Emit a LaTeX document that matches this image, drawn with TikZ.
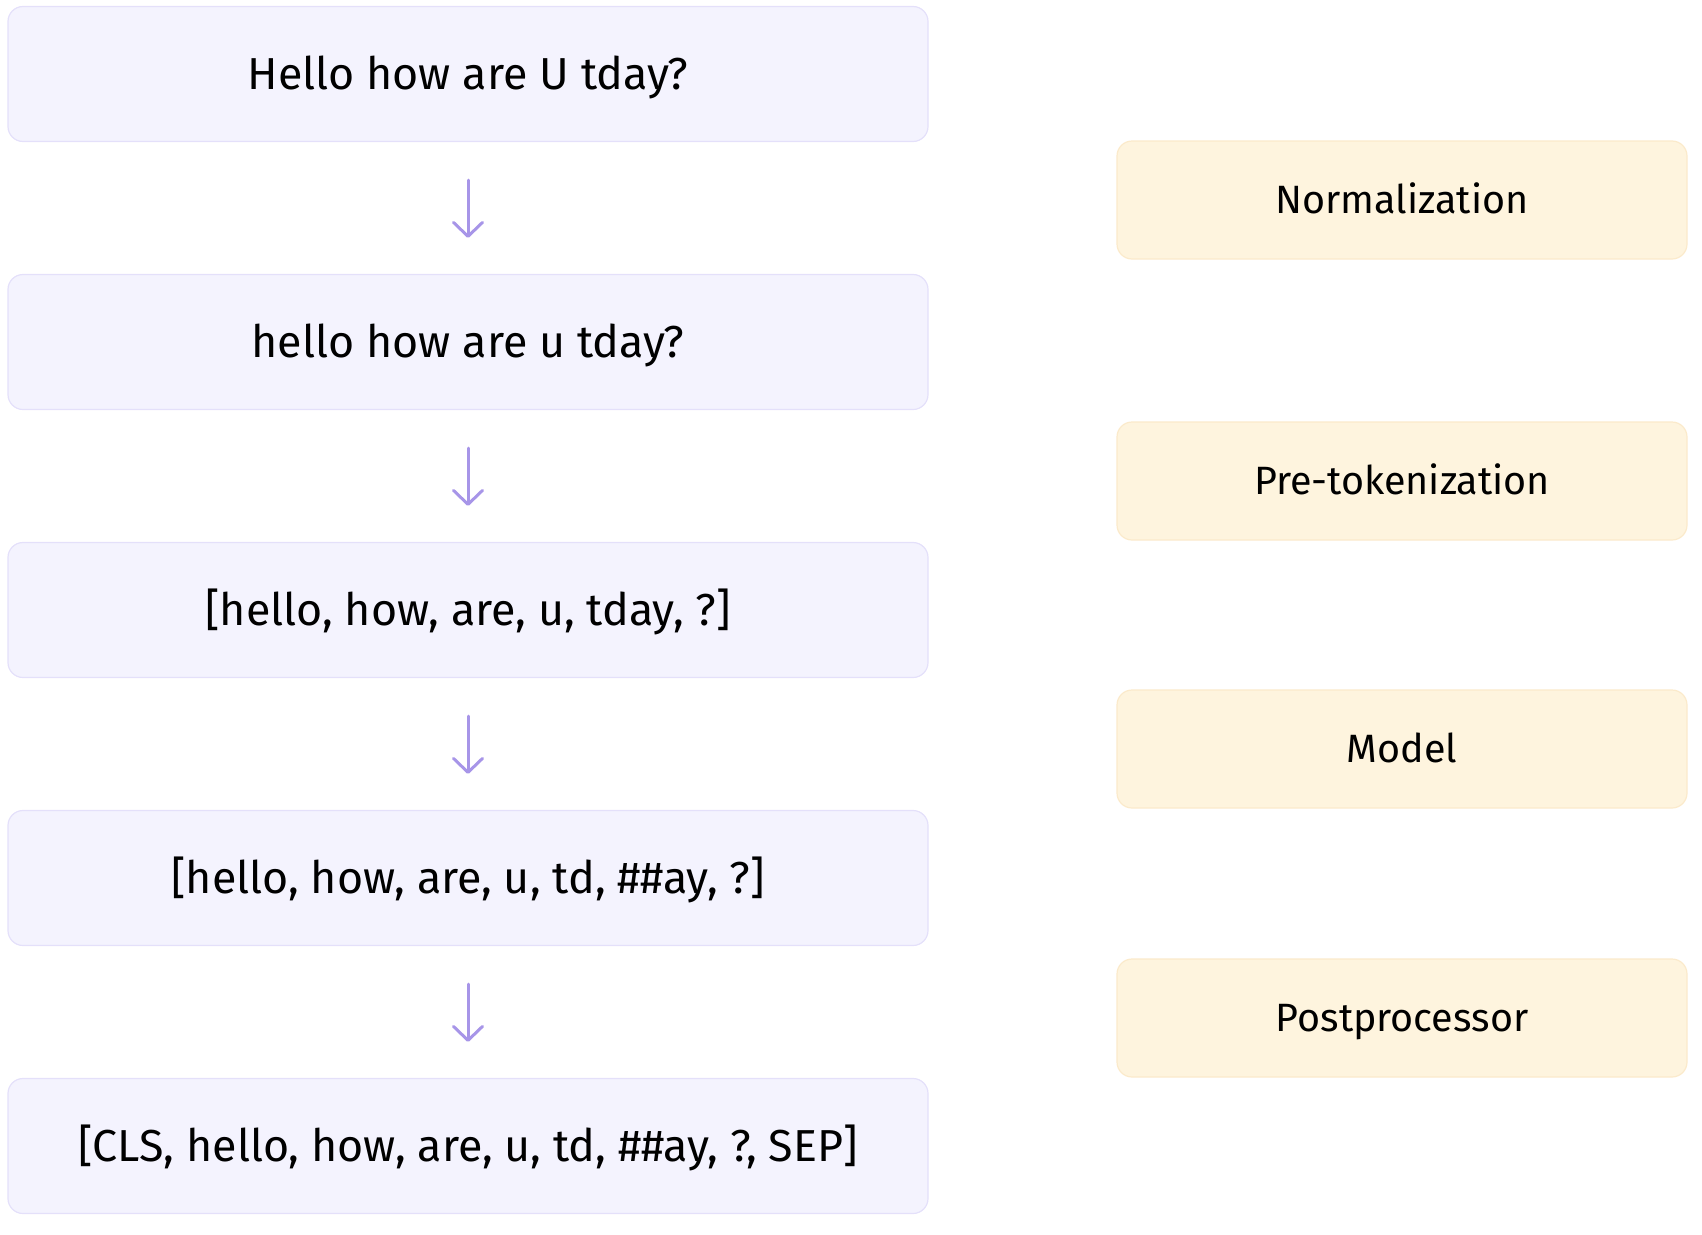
\documentclass[tikz,border=0pt]{standalone}
\usepackage{fontspec}
\setmainfont{Fira Sans}
\usetikzlibrary{arrows.meta}
\definecolor{lavfill}{HTML}{F4F3FE}
\definecolor{lavline}{HTML}{E4E0FA}
\definecolor{crfill}{HTML}{FEF4DE}
\definecolor{crline}{HTML}{FBEACB}
\definecolor{arrowc}{HTML}{A795E8}
\tikzset{
  stagebox/.style={draw=lavline, fill=lavfill, line width=1.2pt, rounded corners=15pt,
    minimum width=920pt, minimum height=135pt, inner sep=0pt,
    font=\fontsize{44.8}{50}\selectfont, text height=31pt, text depth=0pt},
  labelbox/.style={draw=crline, fill=crfill, line width=1.2pt, rounded corners=15pt,
    minimum width=570pt, minimum height=118pt, inner sep=0pt,
    font=\fontsize{39.5}{46}\selectfont, text height=27pt, text depth=0pt},
  flow/.style={draw=arrowc, line width=3pt, line cap=round,
    -{Straight Barb[length=14pt, width=29pt, line width=3pt, round]},
    shorten <=38pt, shorten >=36pt}
}
\begin{document}
\begin{tikzpicture}[x=1pt, y=-1pt]
\useasboundingbox (0,0) rectangle (1702,1234);
\node[stagebox] (s1) at (468,74) {Hello how are U tday?};
\node[stagebox] (s2) at (468,342) {hello how are u tday?};
\node[stagebox] (s3) at (468,610) {[hello, how, are, u, tday, ?]};
\node[stagebox] (s4) at (468,878) {[hello, how, are, u, td, \#\#ay, ?]};
\node[stagebox] (s5) at (468,1146) {[CLS, hello, how, are, u, td, \#\#ay, ?, SEP]};
\node[labelbox] (l1) at (1402,200) {Normalization};
\node[labelbox] (l2) at (1402,481) {Pre-tokenization};
\node[labelbox] (l3) at (1402,749) {Model};
\node[labelbox] (l4) at (1402,1018) {Postprocessor};
\draw[flow] (s1.south) -- (s2.north);
\draw[flow] (s2.south) -- (s3.north);
\draw[flow] (s3.south) -- (s4.north);
\draw[flow] (s4.south) -- (s5.north);
\end{tikzpicture}
\end{document}
